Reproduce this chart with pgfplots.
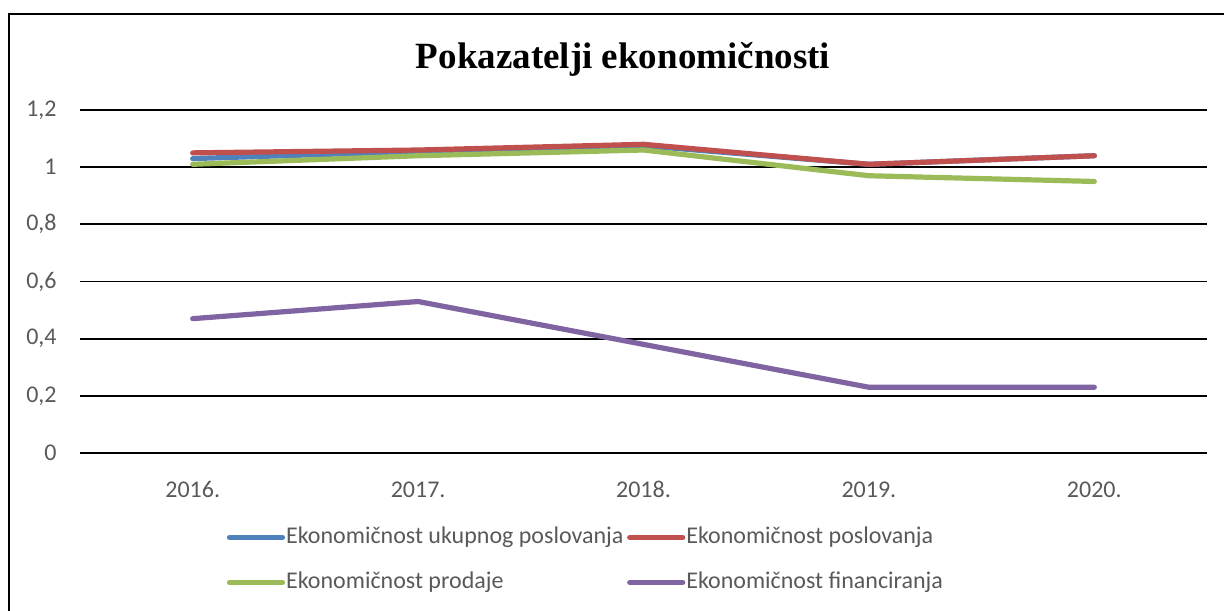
\documentclass[border=0pt]{standalone}
\usepackage{fontspec}
\setmainfont{Carlito}
\newfontfamily\titlefont{Liberation Serif}
\usepackage{pgfplots}
\pgfplotsset{compat=1.18}
\definecolor{cblue}{HTML}{4F81BD}
\definecolor{cred}{HTML}{C0504D}
\definecolor{cgreen}{HTML}{9BBB59}
\definecolor{cpurple}{HTML}{8064A2}
\definecolor{tgray}{HTML}{595959}
\begin{document}
\begin{tikzpicture}
\useasboundingbox (0,0) rectangle (612pt,305pt);
\draw[line width=1.3pt] (4.5pt,-20pt) -- (4.5pt,298pt) -- (620pt,298pt);
\node[font=\titlefont\bfseries\fontsize{18.5}{21}\selectfont] at (311.5pt,275.5pt) {Pokazatelji ekonomičnosti};
\begin{axis}[
  at={(40pt,78.5pt)}, anchor=south west,
  scale only axis, width=563.5pt, height=171.5pt,
  xmin=-0.5, xmax=4.5, ymin=0, ymax=1.2,
  xtick={0,1,2,3,4},
  xticklabels={2016.,2017.,2018.,2019.,2020.},
  ytick={0,0.2,0.4,0.6,0.8,1,1.2},
  /pgf/number format/use comma,
  /pgf/number format/assume math mode=true,
  ymajorgrids,
  major grid style={black, line width=0.9pt},
  axis line style={draw=none},
  tick style={draw=none},
  tick label style={font=\fontsize{12}{14}\selectfont, text=tgray},
  yticklabel style={anchor=east, inner sep=0pt, xshift=-11.5pt},
  xticklabel style={anchor=base, inner sep=0pt, yshift=-22pt},
  legend columns=2,
  legend style={draw=none, fill=none, inner sep=0pt,
    at={(0.1300,-0.2099)}, anchor=north west,
    font=\fontsize{12}{14}\selectfont,
    nodes={text=tgray, text width=170pt, align=flush left, inner xsep=0.5pt, inner ysep=0pt, text height=9pt, text depth=3pt},
    row sep=10.5pt, column sep=0pt},
  legend cell align=left,
  legend image code/.code={\draw[#1, line cap=round] (0.5pt,0pt) -- (27pt,0pt);},
  every axis plot/.append style={line width=2.6pt, line cap=round, line join=round, mark=none},
]
\addplot[cblue] coordinates {(0,1.03) (1,1.055) (2,1.075) (3,1.01) (4,1.04)};
\addlegendentry{Ekonomičnost ukupnog poslovanja}
\addplot[cred] coordinates {(0,1.05) (1,1.06) (2,1.08) (3,1.01) (4,1.04)};
\addlegendentry{Ekonomičnost poslovanja}
\addplot[cgreen] coordinates {(0,1.01) (1,1.04) (2,1.06) (3,0.97) (4,0.95)};
\addlegendentry{Ekonomičnost prodaje}
\addplot[cpurple] coordinates {(0,0.47) (1,0.53) (2,0.38) (3,0.23) (4,0.23)};
\addlegendentry{Ekonomičnost financiranja}
\end{axis}
\end{tikzpicture}
\end{document}
